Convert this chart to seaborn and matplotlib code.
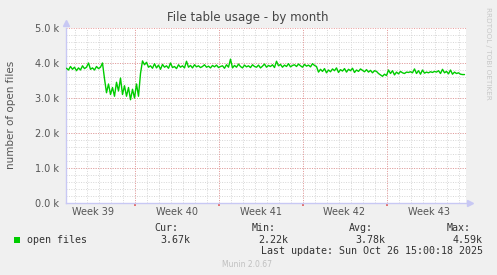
import numpy as np
import pandas as pd
import matplotlib
matplotlib.use("Agg")
import matplotlib.pyplot as plt
import matplotlib.dates as mdates
from matplotlib.ticker import MultipleLocator, FuncFormatter
import seaborn as sns

# ---------------- data ----------------
title = "File table usage - by month"
y_label = "number of open files"
series_name = "open files"
start_time = "2025-09-23 08:00"   # first sample, 4-hour steps
step = "4h"
# open files, thousands (6 samples per day)
open_files_k = [
    3.85, 3.80, 3.90, 3.82, 3.88, 3.78,
    3.86, 3.80, 3.92, 3.84, 3.88, 4.00,
    3.82, 3.86, 3.80, 3.90, 3.84, 3.88,
    4.00, 3.55, 3.15, 3.40, 3.10, 3.30,
    3.05, 3.45, 3.20, 3.57, 3.10, 3.35,
    3.05, 3.30, 2.95, 3.25, 3.00, 3.40,
    3.05, 3.70, 4.06, 3.95, 4.02, 3.88,
    3.92, 3.85, 3.98, 3.86, 3.94, 3.82,
    3.96, 3.88, 3.92, 3.85, 4.00, 3.87,
    3.90, 3.84, 3.95, 3.88, 3.92, 3.86,
    4.05, 3.88, 3.93, 3.86, 3.95, 3.89,
    3.92, 3.87, 3.90, 3.95, 3.88, 3.91,
    3.86, 3.93, 3.89, 3.94, 3.87, 3.90,
    3.92, 3.85, 3.95, 3.88, 4.11, 3.86,
    3.93, 3.88, 3.97, 3.90, 3.86, 3.94,
    3.89, 3.92, 3.87, 3.95, 3.90, 3.88,
    3.94, 3.86, 3.91, 3.97, 3.88, 3.93,
    3.90, 3.95, 3.87, 4.05, 3.92, 3.96,
    3.88, 3.94, 3.90, 3.98, 3.89, 3.93,
    3.95, 3.90, 3.97, 3.92, 3.88, 3.96,
    3.91, 3.94, 3.89, 3.98, 3.93, 3.90,
    3.74, 3.82, 3.76, 3.84, 3.72, 3.80,
    3.75, 3.83, 3.78, 3.86, 3.73, 3.81,
    3.77, 3.84, 3.74, 3.82, 3.78, 3.85,
    3.73, 3.80, 3.76, 3.83, 3.79, 3.75,
    3.81, 3.74, 3.79, 3.72, 3.78, 3.76,
    3.70, 3.66, 3.62, 3.68, 3.64, 3.80,
    3.70, 3.78, 3.66, 3.74, 3.69, 3.76,
    3.72, 3.70, 3.74, 3.73, 3.75, 3.72,
    3.83, 3.70, 3.78, 3.68, 3.80, 3.71,
    3.74, 3.72, 3.75, 3.73, 3.76, 3.74,
    3.78, 3.70, 3.82, 3.72, 3.76, 3.69,
    3.80, 3.68, 3.74, 3.70, 3.72, 3.68,
    3.67, 3.67,
]
x_start = "2025-09-23 07:00"
x_end = "2025-10-26 15:00"
week_starts = ["2025-09-22", "2025-09-29", "2025-10-06", "2025-10-13", "2025-10-20"]
week_labels = ["Week 39", "Week 40", "Week 41", "Week 42", "Week 43"]
stat_names = ["Cur:", "Min:", "Avg:", "Max:"]
stat_values = ["3.67k", "2.22k", "3.78k", "4.59k"]
last_update = "Last update: Sun Oct 26 15:00:18 2025"
footer = "Munin 2.0.67"
side_text = "RRDTOOL / TOBI OETIKER"

df = pd.DataFrame({
    "time": pd.date_range(start_time, periods=len(open_files_k), freq=step),
    "value": open_files_k,
})

# ---------------- style ----------------
sns.set_theme(style="white")
plt.rcParams["font.family"] = ["DejaVu Sans"]

W, H = 497, 275
fig = plt.figure(figsize=(W / 100, H / 100), dpi=100, facecolor="#F0F0F0")

def fx(x):
    return x / W

def fy(y):
    return 1 - y / H

L, R, T, B = 66, 466, 28, 203
ax = fig.add_axes([fx(L), fy(B), (R - L) / W, (B - T) / H])
ax.set_facecolor("white")

sns.lineplot(data=df, x="time", y="value", ax=ax, color="#00CC00", linewidth=1.0,
             legend=False, zorder=5)

ax.set_xlabel("")
ax.set_ylabel("")

dot = (0, (1, 1.5))
ax.grid(False)
# minor (daily / 0.2k) grid
for d in pd.date_range("2025-09-23", "2025-10-26", freq="D"):
    ax.axvline(d, color="#D6D6D6", lw=0.7, ls=dot, zorder=1)
for v in np.arange(0.2, 5.0, 0.2):
    ax.axhline(v, color="#D6D6D6", lw=0.7, ls=dot, zorder=1)
# major grid
for d in week_starts:
    ax.axvline(pd.Timestamp(d), color="#E89A9A", lw=0.7, ls=dot, zorder=2)
for v in np.arange(1.0, 5.01, 1.0):
    ax.axhline(v, color="#E89A9A", lw=0.7, ls=dot, zorder=2)

# ticks
mid = [pd.Timestamp(d) + pd.Timedelta(days=3, hours=12) for d in week_starts]
ax.set_xticks([pd.Timestamp(d) for d in week_starts])
ax.set_xticklabels([""] * len(week_starts))
ax.set_xticks(mid, minor=True)
ax.set_xticklabels(week_labels, minor=True)
ax.tick_params(axis="x", which="major", length=2, color="#E06060", direction="out", bottom=True)
ax.tick_params(axis="x", which="minor", length=0, pad=3, labelsize=7, labelcolor="#555555")
ax.set_yticks(np.arange(0, 5.01, 1.0))
ax.yaxis.set_major_formatter(FuncFormatter(lambda v, p: f"{v:.1f} k"))
ax.tick_params(axis="y", which="both", length=0, pad=5, labelsize=7, labelcolor="#555555")

for s in ["top", "right"]:
    ax.spines[s].set_visible(False)
for s in ["left", "bottom"]:
    ax.spines[s].set_color("#C8C8F4")
    ax.spines[s].set_linewidth(1.0)

# limits last (set_ticks may expand view limits)
ax.set_xlim(pd.Timestamp(x_start), pd.Timestamp(x_end))
ax.set_ylim(0, 5.0)

ax.plot([0], [1.03], marker="^", color="#C8C8F4", markersize=4, transform=ax.transAxes, clip_on=False)
ax.plot([1.01], [0], marker=">", color="#C8C8F4", markersize=4, transform=ax.transAxes, clip_on=False)
ax.set_xlim(pd.Timestamp(x_start), pd.Timestamp(x_end))
ax.set_ylim(0, 5.0)

# texts
fig.text(fx(248), fy(18), title, ha="center", va="center", fontsize=8.5, color="#444444")
fig.text(fx(11), fy(115), y_label, ha="center", va="center", rotation=90, fontsize=7.5, color="#555555")
fig.text(fx(488), fy(53), side_text, ha="center", va="center", rotation=270, fontsize=5.2, color="#C8C8C8")

mono = "DejaVu Sans Mono"
fs = 7.2
fig.patches.append(plt.Rectangle((fx(14), fy(242.5)), 6 / W, 6 / H, transform=fig.transFigure,
                                 facecolor="#00CC00", edgecolor="none"))
fig.text(fx(27), fy(240), series_name, ha="left", va="center", family=mono, fontsize=fs, color="#333333")
name_x = [154, 252, 349, 447]
val_right = [190, 288, 385, 483]
for nx, vr, n, v in zip(name_x, val_right, stat_names, stat_values):
    fig.text(fx(nx), fy(228), n, ha="left", va="center", family=mono, fontsize=fs, color="#333333")
    fig.text(fx(vr), fy(240), v, ha="right", va="center", family=mono, fontsize=fs, color="#333333")
fig.text(fx(483), fy(251.5), last_update, ha="right", va="center", family=mono, fontsize=fs, color="#333333")
fig.text(fx(247), fy(264.5), footer, ha="center", va="center", fontsize=5.5, color="#C0C0C0")

fig.savefig("out.png", dpi=100, facecolor=fig.get_facecolor())
